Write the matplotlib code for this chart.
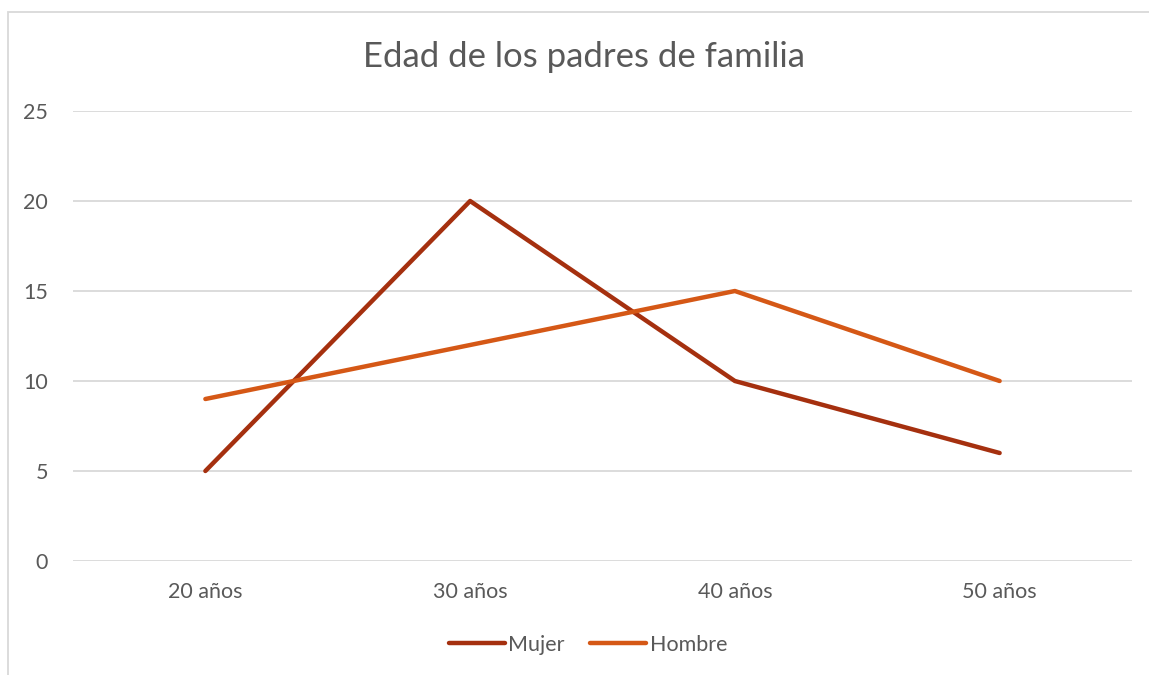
import matplotlib
matplotlib.use("Agg")
import matplotlib.pyplot as plt
from matplotlib.patches import Rectangle

# Datos del grafico
categorias = ["20 años", "30 años", "40 años", "50 años"]
mujer = [5, 20, 10, 6]
hombre = [9, 12, 15, 10]
y_ticks = [0, 5, 10, 15, 20, 25]

plt.rcParams['font.family'] = ['Lato', 'DejaVu Sans']
text_color = "#595959"
grid_color = "#D9D9D9"

fig = plt.figure(figsize=(11.49, 6.75), dpi=100)

# Borde del area del grafico (estilo Excel)
fig.patches.append(Rectangle((8 / 1149, -0.1), 1.2, 1 - 12 / 675 + 0.1,
                             transform=fig.transFigure, fill=False,
                             edgecolor=grid_color, linewidth=1.3))

ax = fig.add_axes([73 / 1149, (675 - 561) / 675, (1132 - 73) / 1149, (561 - 111) / 675])

x = range(len(categorias))
ax.plot(x, mujer, color="#A5300F", linewidth=3.2, label="Mujer", solid_capstyle="round", zorder=3)
ax.plot(x, hombre, color="#D55816", linewidth=3.2, label="Hombre", solid_capstyle="round", zorder=3)

ax.set_xlim(-0.5, len(categorias) - 0.5)
ax.set_ylim(0, 25)
ax.set_yticks(y_ticks)
ax.set_xticks(list(x))
ax.set_xticklabels(categorias)

ax.grid(axis="y", color=grid_color, linewidth=1.3)
ax.set_axisbelow(True)
for s in ax.spines.values():
    s.set_visible(False)
ax.tick_params(axis="both", length=0, colors=text_color, labelsize=15.5)
ax.tick_params(axis="y", pad=18)
ax.tick_params(axis="x", pad=15)

fig.text(584 / 1149, 1 - 57 / 675, "Edad de los padres de familia",
         ha="center", va="center", fontsize=25, color=text_color)

fig.legend(loc="center", bbox_to_anchor=(588 / 1149, 1 - 645 / 675), ncol=2,
           frameon=False, fontsize=15.5, labelcolor=text_color,
           handlelength=2.6, handletextpad=0.15, columnspacing=1.2)

fig.savefig("out.png", dpi=100, facecolor="white")
